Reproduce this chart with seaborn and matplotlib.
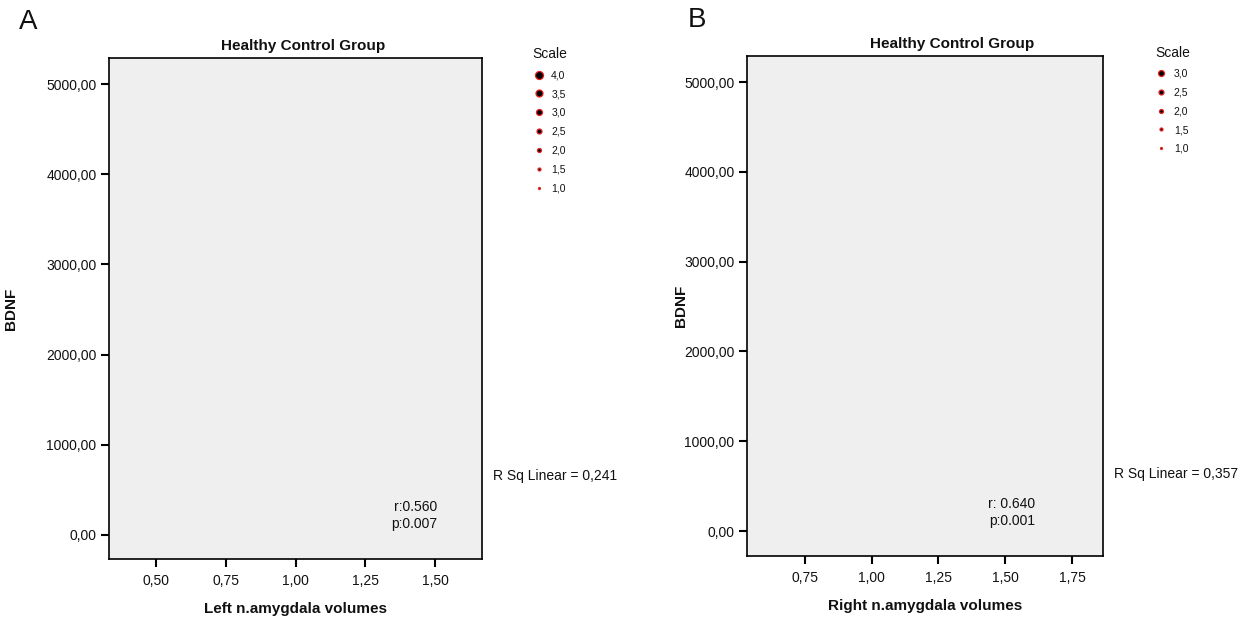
import matplotlib
matplotlib.use("Agg")
import matplotlib.pyplot as plt
from matplotlib.lines import Line2D
import seaborn as sns

# panel texts and values
panel_labels = ["A", "B"]
titles = ["Healthy Control Group", "Healthy Control Group"]
x_labels = ["Left n.amygdala volumes", "Right n.amygdala volumes"]
y_label = "BDNF"
x_ticks_left = [0.50, 0.75, 1.00, 1.25, 1.50]
x_ticks_right = [0.75, 1.00, 1.25, 1.50, 1.75]
y_ticks = [0, 1000, 2000, 3000, 4000, 5000]
x_lim_left = (0.332, 1.668)
x_lim_right = (0.533, 1.866)
y_lim_left = (-267, 5289)
y_lim_right = (-278, 5289)
scale_left = [4.0, 3.5, 3.0, 2.5, 2.0, 1.5, 1.0]
scale_right = [3.0, 2.5, 2.0, 1.5, 1.0]
stats_left = "r:0.560\np:0.007"
stats_right = "r: 0.640\np:0.001"
rsq_left = 0.241
rsq_right = 0.357

sns.set_style("ticks")
plt.rcParams['font.family'] = ['Liberation Sans', 'DejaVu Sans']
plt.rcParams['text.color'] = '#111111'
plt.rcParams['axes.labelcolor'] = '#111111'
plt.rcParams['xtick.color'] = '#111111'
plt.rcParams['ytick.color'] = '#111111'


def comma(v, nd=2):
    return f"{v:.{nd}f}".replace(".", ",")


fig = plt.figure(figsize=(12.46, 6.17), dpi=100)

ax_a = fig.add_axes([0.0875, 0.094, 0.2994, 0.812])
ax_b = fig.add_axes([0.5995, 0.0989, 0.2857, 0.810])

configs = [
    (ax_a, x_ticks_left, x_lim_left, y_lim_left, stats_left, rsq_left, scale_left),
    (ax_b, x_ticks_right, x_lim_right, y_lim_right, stats_right, rsq_right, scale_right),
]
stat_x = [0.88, 0.81]
ylab_x = [-0.244, -0.166]
title_x = [0.52, 0.575]
leg_x = [1.11, 1.12]

for i, (ax, xt, xl, yl, stats, rsq, scale) in enumerate(configs):
    ax.set_facecolor("#efefef")
    ax.set_xlim(*xl)
    ax.set_ylim(*yl)
    ax.set_xticks(xt)
    ax.set_xticklabels([comma(v) for v in xt], fontsize=10)
    ax.set_yticks(y_ticks)
    ax.set_yticklabels([comma(v) for v in y_ticks], fontsize=10)
    ax.tick_params(axis="x", length=6, width=1.5, color="black", pad=5)
    ax.tick_params(axis="y", length=6, width=1.5, color="black", pad=3)
    for s in ax.spines.values():
        s.set_visible(True)
        s.set_linewidth(1.2)
        s.set_color("black")
    ax.set_xlabel(x_labels[i], fontsize=11, fontweight="bold", labelpad=10)
    ax.set_ylabel(y_label, fontsize=11, fontweight="bold")
    ax.yaxis.set_label_coords(ylab_x[i], 0.5)
    ax.set_title(titles[i], fontsize=11, fontweight="bold", pad=6, x=title_x[i])
    ax.text(stat_x[i], 0.055, stats, transform=ax.transAxes,
            ha="right", va="bottom", fontsize=10, linespacing=1.3)
    ax.text(1.03, 0.165, "R Sq Linear = " + comma(rsq, 3), transform=ax.transAxes,
            ha="left", va="center", fontsize=10)

    handles = [Line2D([], [], linestyle="none", marker="o", markersize=1.4 + 1.45 * (v - 1),
                      markerfacecolor="black", markeredgecolor="#e8201c", markeredgewidth=0.9)
               for v in scale]
    leg = ax.legend(handles, [comma(v, 1) for v in scale], title="Scale", frameon=False,
                    loc="upper left", bbox_to_anchor=(leg_x[i], 1.04),
                    fontsize=7.5, title_fontsize=10, handletextpad=0.6,
                    labelspacing=0.85, handlelength=1.2)
    leg._legend_box.align = "left"

fig.text(0.015, 0.965, panel_labels[0], fontsize=20, va="center", ha="left")
fig.text(0.552, 0.968, panel_labels[1], fontsize=20, va="center", ha="left")

fig.savefig("out.png", dpi=100)
